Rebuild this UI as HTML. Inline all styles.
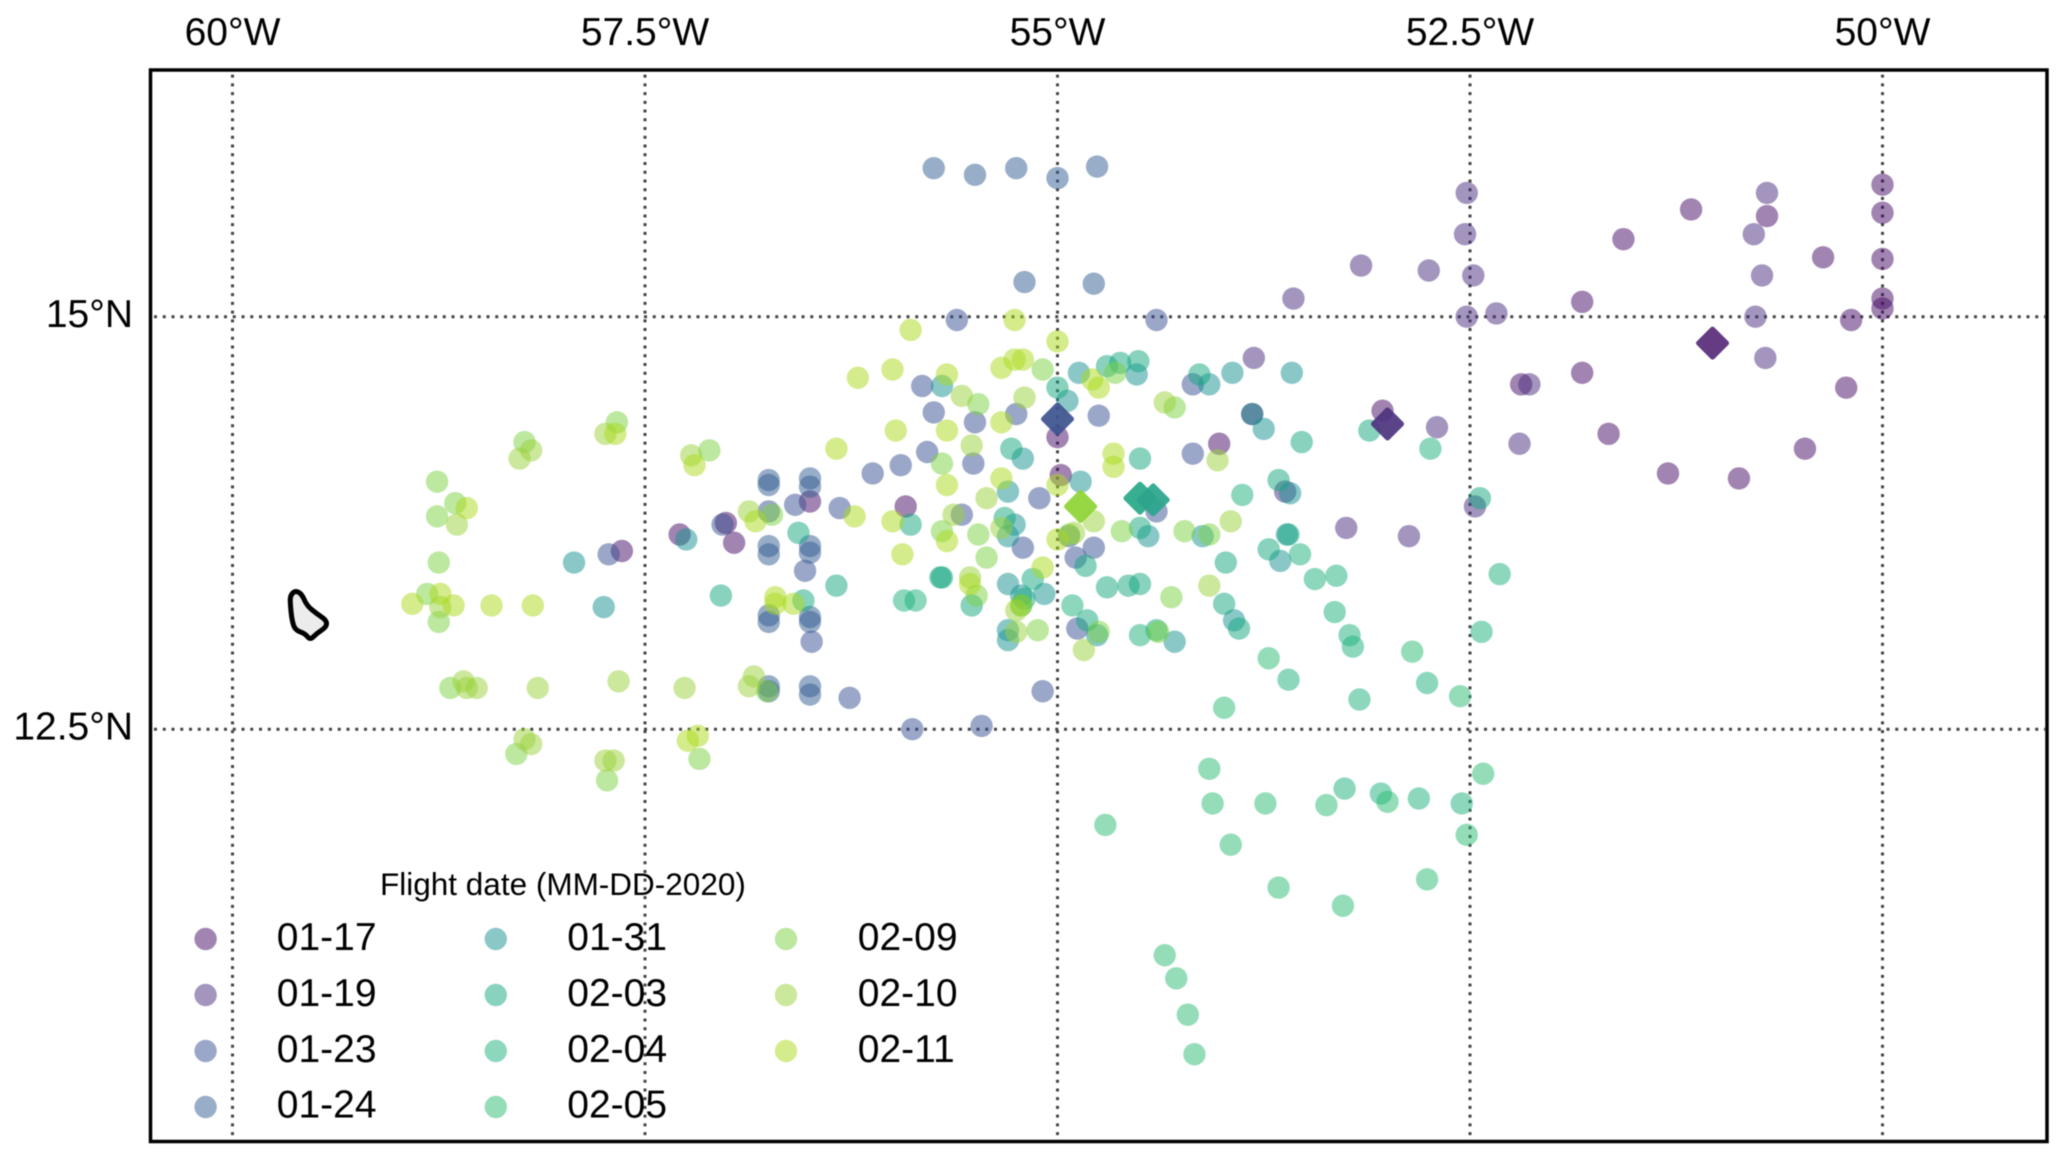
<!DOCTYPE html>
<html lang="en">
<head>
<meta charset="utf-8">
<title>Flight locations by date</title>
<style>
html,body{margin:0;padding:0;background:#fff;width:2067px;height:1162px;overflow:hidden}
svg{display:block;filter:blur(0.55px)}
text{font-family:"Liberation Sans",Arial,sans-serif;fill:#000}
</style>
</head>
<body>
<svg id="chart" xmlns="http://www.w3.org/2000/svg" width="2067" height="1162" viewBox="0 0 2067 1162">
  <rect x="0" y="0" width="2067" height="1162" fill="#fff"/>
  <g id="grid"></g>
  <g id="xlabels"></g>
  <g id="ylabels"></g>
  <g id="land"></g>
  <g id="points"></g>
  <g id="diamonds"></g>
  <g id="legend">
    <text x="380" y="895" font-size="31.5">Flight date (MM-DD-2020)</text>
  </g>
  <rect x="150.5" y="70" width="1896.5" height="1071.5" fill="none" stroke="#000" stroke-width="3.5"/>
</svg>
<script>
// Axis ticks
const lonTicks = [60, 57.5, 55, 52.5, 50];
const lonTickLabels = ["60°W", "57.5°W", "55°W", "52.5°W", "50°W"];
const latTicks = [15, 12.5];
const latTickLabels = ["15°N", "12.5°N"];

// Flight dates (legend order)
const dates = ["01-17","01-19","01-23","01-24","01-31","02-03","02-04","02-05","02-09","02-10","02-11"];

// Point positions: degrees West and degrees North
const lon_01_17 = [51.16,51.57,51.82,51.82,52.19,51.66,51.30,53.03,50.70,50.36,50.00,50.00,50.00,50.00,50.00,50.19,50.22,50.47,50.87,55.00,54.98,55.92,54.02,53.82,56.50,57.01,56.96,57.29,57.64];
const lat_01_17 = [15.65,15.47,15.09,14.66,14.59,14.29,14.05,14.43,15.61,15.36,15.80,15.63,15.35,15.11,15.05,14.98,14.57,14.20,14.02,14.27,14.04,13.85,14.23,14.41,13.88,13.75,13.63,13.68,13.58];

const lon_01_19 = [52.52,52.53,53.16,52.75,52.48,52.52,52.34,52.70,52.20,52.14,53.57,50.70,50.78,50.73,50.77,50.71,53.81,53.62,53.25,52.87,52.47];
const lat_01_19 = [15.75,15.50,15.31,15.28,15.25,15.00,15.02,14.33,14.23,14.59,15.11,15.75,15.50,15.25,15.00,14.75,14.75,13.94,13.72,13.67,13.85];

const lon_01_23 = [57.72,57.03,56.59,56.75,56.32,56.12,55.95,56.53,56.49,56.26,55.82,55.75,55.50,55.25,54.75,54.18,54.18,55.79,55.51,55.58,55.11,54.40,55.21,54.78,54.89,54.88,54.93,55.09,55.61,54.40,55.46,55.88];
const lat_01_23 = [13.56,13.74,13.86,13.82,13.84,14.05,14.10,13.46,13.03,12.69,14.58,14.42,14.36,14.41,14.40,14.59,14.17,14.18,14.11,13.80,13.90,13.82,13.60,13.60,13.54,13.11,13.67,12.73,14.98,14.98,12.52,12.50];

const lon_01_24 = [55.75,55.50,55.25,55.00,54.76,55.20,54.78,56.75,56.75,56.50,56.50,56.75,56.75,56.50,56.50,56.75,56.75,56.50,56.50,56.75,56.75,56.50,56.50];
const lat_01_24 = [15.90,15.86,15.90,15.84,15.91,15.21,15.20,14.01,13.98,14.02,13.97,13.61,13.56,13.61,13.57,13.19,13.15,13.18,13.15,12.76,12.73,12.76,12.71];

const lon_01_31 = [57.25,57.93,57.75,54.94,54.87,54.52,54.08,53.94,53.58,55.70,53.75,53.82,55.21,54.86,55.30,53.59,55.26,55.30,54.45,54.12,53.61,53.65,55.30,55.08,55.22,53.93,54.29,55.30,55.30,54.76];
const lat_01_31 = [13.65,13.51,13.24,14.49,14.66,14.65,14.59,14.66,14.66,14.58,14.32,14.41,14.14,14.00,13.94,13.93,13.74,13.67,13.67,13.67,13.68,13.52,13.38,13.32,13.31,13.16,13.03,13.10,13.04,13.07];

const lon_02_03 = [56.57,57.04,56.34,56.54,55.00,54.51,54.62,54.70,54.14,53.52,55.28,54.50,53.66,55.32,55.89,54.50,53.60,53.72,53.98,54.83,55.71,55.70,55.15,55.20,55.22,54.70,54.57,54.50,53.99,53.90,55.52,54.82,54.40,53.11,52.44];
const lat_02_03 = [13.69,13.31,13.37,13.28,14.57,14.73,14.72,14.70,14.65,14.24,14.20,14.14,14.01,13.78,13.74,13.72,13.68,13.59,13.51,13.49,13.42,13.42,13.41,13.29,13.25,13.36,13.37,13.38,13.26,13.11,13.25,13.16,13.10,14.31,13.90];

const lon_02_04 = [53.88,53.53,53.44,53.31,55.93,55.86,54.91,54.50,53.32,53.23,53.21,52.32,52.43,52.76,53.17,53.60,52.74,52.55,52.81,53.04,53.26];
const lat_02_04 = [13.92,13.56,13.41,13.43,13.28,13.28,13.25,13.07,13.21,13.07,13.00,13.44,13.09,12.78,12.68,12.80,14.20,12.05,12.08,12.11,12.14];

const lon_02_05 = [52.85,52.56,53.72,53.99,52.42,52.52,53.00,53.37,53.74,53.66,53.27,52.76,54.08,54.06,54.71,53.95,54.35,54.28,54.21,54.17];
const lat_02_05 = [12.97,12.70,12.93,12.63,12.23,11.86,12.06,12.04,12.05,11.54,11.43,11.59,12.26,12.05,11.92,11.80,11.13,10.99,10.77,10.53];

const lon_02_09 = [57.67,58.23,58.76,58.65,58.76,58.75,58.82,58.75,58.68,58.28,57.73,57.17,57.11,56.73,56.76,55.48,54.65,55.09,55.70,54.93,55.48,55.70,55.43,54.61,54.23,54.08,54.31,55.49,55.12,54.75,54.39,54.29];
const lat_02_09 = [14.36,14.24,14.00,13.87,13.79,13.51,13.32,13.15,12.75,12.35,12.19,12.32,14.19,13.80,12.73,14.47,14.66,14.68,14.11,13.68,13.68,13.70,13.54,13.70,13.70,13.68,13.30,13.31,13.10,13.09,13.09,14.45];

const lon_02_10 = [57.74,58.26,58.19,58.64,58.74,58.60,58.52,58.58,58.15,57.66,57.26,56.84,58.23,58.19,57.74,57.69,57.22,56.87,56.87,55.58,55.20,55.52,55.34,55.43,55.63,54.90,54.35,53.95,54.08,54.03,55.53,55.25,55.25,54.84,54.78];
const lat_02_10 = [14.29,14.14,14.19,13.74,13.24,12.79,12.75,12.75,12.75,12.79,12.75,12.82,12.44,12.41,12.31,12.31,14.16,13.82,12.76,14.52,14.51,14.22,13.72,13.90,13.80,13.69,14.48,13.76,13.37,14.13,13.42,13.09,13.22,12.98,13.76];

const lon_02_11 = [57.68,58.58,58.91,58.74,58.66,58.43,58.18,57.20,56.83,56.71,56.71,56.60,56.34,56.21,56.00,56.23,56.00,57.24,57.18,55.89,55.26,55.00,55.67,55.26,55.21,55.34,55.34,55.98,55.67,54.66,54.66,55.34,55.00,55.67,55.67,55.94,55.00,55.09,55.53,55.22,54.75,54.79];
const lat_02_11 = [14.29,13.84,13.26,13.32,13.25,13.25,13.25,14.10,13.76,13.30,13.26,13.26,14.20,14.63,14.68,13.79,13.76,12.43,12.46,14.92,14.98,14.85,14.65,14.74,14.74,14.69,14.36,14.31,14.31,14.17,14.09,14.02,13.98,13.98,13.64,13.56,13.65,13.48,13.38,13.25,14.57,14.62];

// Flight-mean diamonds
const meanLon = [51.03,53.00,55.00,54.50,54.42,54.86];
const meanLat = [14.84,14.35,14.38,13.90,13.89,13.85];

// Barbados coastline
const coastLon = [59.62,59.58,59.55,59.49,59.43,59.43,59.49,59.53,59.56,59.62,59.64,59.65,59.65];
const coastLat = [13.34,13.32,13.25,13.20,13.16,13.12,13.08,13.04,13.08,13.10,13.16,13.26,13.31];

const seriesLons = [lon_01_17,lon_01_19,lon_01_23,lon_01_24,lon_01_31,lon_02_03,lon_02_04,lon_02_05,lon_02_09,lon_02_10,lon_02_11];
const seriesLats = [lat_01_17,lat_01_19,lat_01_23,lat_01_24,lat_01_31,lat_02_03,lat_02_04,lat_02_05,lat_02_09,lat_02_10,lat_02_11];
const palette = ["#440a63","#472b7d","#374f91","#315b91","#159191","#11a57d","#1bb179","#29bb71","#79d141","#99d139","#a9d919"];
const meanPalette = ["#5a2d7a","#4f3580","#3e5490","#2ba98a","#2ca58c","#8fd435"];

const NS = "http://www.w3.org/2000/svg";
const xScale = function (lonW) { return 1057.5 + (55 - lonW) * 165; };
const yScale = function (latN) { return 316.7 + (15 - latN) * 165; };

function make(tag, parent, attrs) {
  const el = document.createElementNS(NS, tag);
  for (const k in attrs) el.setAttribute(k, attrs[k]);
  parent.appendChild(el);
  return el;
}

function smoothClosedPath(xs, ys) {
  const n = xs.length;
  let d = "M" + ((xs[n - 1] + xs[0]) / 2) + " " + ((ys[n - 1] + ys[0]) / 2);
  for (let i = 0; i < n; i++) {
    const j = (i + 1) % n;
    d += " Q" + xs[i] + " " + ys[i] + " " + ((xs[i] + xs[j]) / 2) + " " + ((ys[i] + ys[j]) / 2);
  }
  return d + " Z";
}

const gridG = document.getElementById("grid");
const xLabG = document.getElementById("xlabels");
const yLabG = document.getElementById("ylabels");

lonTicks.forEach(function (t, i) {
  const x = xScale(t);
  const line = make("line", gridG, {x1: x, x2: x, y1: 74.6, y2: 1140, stroke: "#444", "stroke-width": 3, "stroke-dasharray": "3 5.74"});
  
  
  const label = make("text", xLabG, {x: x, y: 45, "font-size": 39, "text-anchor": "middle"});
  label.textContent = lonTickLabels[i];
  
  
});

latTicks.forEach(function (t, i) {
  const y = yScale(t);
  const line = make("line", gridG, {x1: 154, x2: 2045, y1: y, y2: y, stroke: "#444", "stroke-width": 3, "stroke-dasharray": "3 5.75"});
  
  
  const label = make("text", yLabG, {x: 133, y: y + 10.5, "font-size": 39, "text-anchor": "end"});
  label.textContent = latTickLabels[i];
  
  
});

const coast = make("path", document.getElementById("land"), {
  d: smoothClosedPath(coastLon.map(xScale), coastLat.map(yScale)),
  fill: "#ececec", stroke: "#000", "stroke-width": 5, "stroke-linejoin": "round"
});



const pointsG = document.getElementById("points");
dates.forEach(function (d, s) {
  const group = make("g", pointsG, {fill: palette[s], "fill-opacity": 0.5});
  
  
  seriesLons[s].forEach(function (lo, i) {
    const c = make("circle", group, {cx: xScale(lo), cy: yScale(seriesLats[s][i]), r: 11.2});
    
    
  });
});

const diamondsG = document.getElementById("diamonds");
meanLon.forEach(function (lo, i) {
  const x = xScale(lo), y = yScale(meanLat[i]), h = 14;
  const m = make("polygon", diamondsG, {
    points: [x, y - h, x + h, y, x, y + h, x - h, y].join(" "),
    fill: meanPalette[i], stroke: meanPalette[i], "stroke-width": 5, "stroke-linejoin": "round", opacity: 0.93
  });
  
  
});

const legendG = document.getElementById("legend");
dates.forEach(function (d, i) {
  const col = i < 4 ? 0 : (i < 8 ? 1 : 2);
  const row = i < 4 ? i : (i < 8 ? i - 4 : i - 8);
  const item = make("g", legendG, {});
  
  
  const swatch = make("circle", item, {cx: 205.6 + col * 290.2, cy: 939 + row * 56, r: 11.2, fill: palette[i], "fill-opacity": 0.5});
  
  
  const label = make("text", item, {x: 276.8 + col * 290.5, y: 950 + row * 55.9, "font-size": 39});
  label.textContent = d;
  
  
});
</script>
</body>
</html>
